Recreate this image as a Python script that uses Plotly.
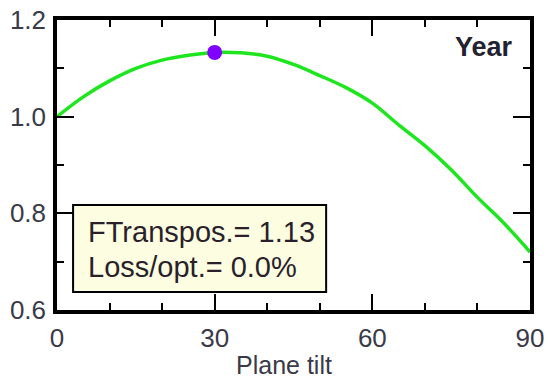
import plotly.graph_objects as go

# Data
tilt = [0, 5, 10, 15, 20, 25, 30, 35, 40, 45, 50, 55, 60, 65, 70, 75, 80, 85, 90]
transpos = [1.000, 1.041, 1.074, 1.100, 1.117, 1.127, 1.133, 1.132, 1.125, 1.108,
            1.085, 1.060, 1.028, 0.983, 0.940, 0.890, 0.833, 0.780, 0.720]
opt_tilt = [30]
opt_value = [1.133]
x_ticks = [0, 30, 60, 90]
y_ticks = [0.6, 0.8, 1.0, 1.2]
box_lines = ["FTranspos.= 1.13", "Loss/opt.= 0.0%"]
period_label = "Year"
x_label = "Plane tilt"

FONT = "Liberation Sans, Arial, sans-serif"
TICKCOL = "#3a3a48"
TEXTCOL = "#2a1f2a"

fig = go.Figure()
fig.add_trace(go.Scatter(x=tilt, y=transpos, mode="lines",
                         line=dict(color="#1ee61e", width=3.5, shape="spline"),
                         showlegend=False, hoverinfo="skip"))
fig.add_trace(go.Scatter(x=opt_tilt, y=opt_value, mode="markers",
                         marker=dict(color="#8000ff", size=15),
                         showlegend=False, hoverinfo="skip"))

axis_common = dict(showgrid=False, zeroline=False, showline=True, linecolor="black",
                   linewidth=3.5, mirror="allticks", ticks="inside", tickcolor="black",
                   tickwidth=2, automargin=False,
                   tickfont=dict(family=FONT, size=26, color=TICKCOL))

fig.update_xaxes(range=[0, 90], tickvals=x_ticks, ticklen=16,
                 minor=dict(dtick=10, ticks="inside", ticklen=7, tickwidth=2, tickcolor="black"),
                 ticklabelstandoff=2, **axis_common)
fig.update_yaxes(range=[0.6, 1.2], tickvals=y_ticks, tickformat=".1f", ticklen=17,
                 minor=dict(dtick=0.1, ticks="inside", ticklen=7, tickwidth=2, tickcolor="black"),
                 ticklabelstandoff=2, **axis_common)

# Info box
fig.add_shape(type="rect", xref="paper", yref="paper", x0=0.034, x1=0.569, y0=0.062, y1=0.362,
              fillcolor="#fdfde2", line=dict(color="black", width=2), layer="above")
fig.add_annotation(xref="paper", yref="paper", x=0.061, y=0.269, xanchor="left", yanchor="middle",
                   text=box_lines[0], showarrow=False, font=dict(family=FONT, size=29, color=TEXTCOL))
fig.add_annotation(xref="paper", yref="paper", x=0.061, y=0.148, xanchor="left", yanchor="middle",
                   text=box_lines[1], showarrow=False, font=dict(family=FONT, size=29, color=TEXTCOL))

fig.add_annotation(xref="paper", yref="paper", x=0.968, y=0.907, xanchor="right", yanchor="middle",
                   text="<b>%s</b>" % period_label, showarrow=False,
                   font=dict(family=FONT, size=27, color="#222230"))
fig.add_annotation(xref="paper", yref="paper", x=0.48, y=-0.19, xanchor="center", yanchor="middle",
                   text=x_label, showarrow=False, font=dict(family=FONT, size=25, color=TICKCOL))

fig.update_layout(width=548, height=379, margin=dict(l=57, r=18, t=20, b=69),
                  plot_bgcolor="white", paper_bgcolor="white")

fig.write_html("out.html", config={"displayModeBar": False},
               post_script="document.body.style.margin='0px';")
